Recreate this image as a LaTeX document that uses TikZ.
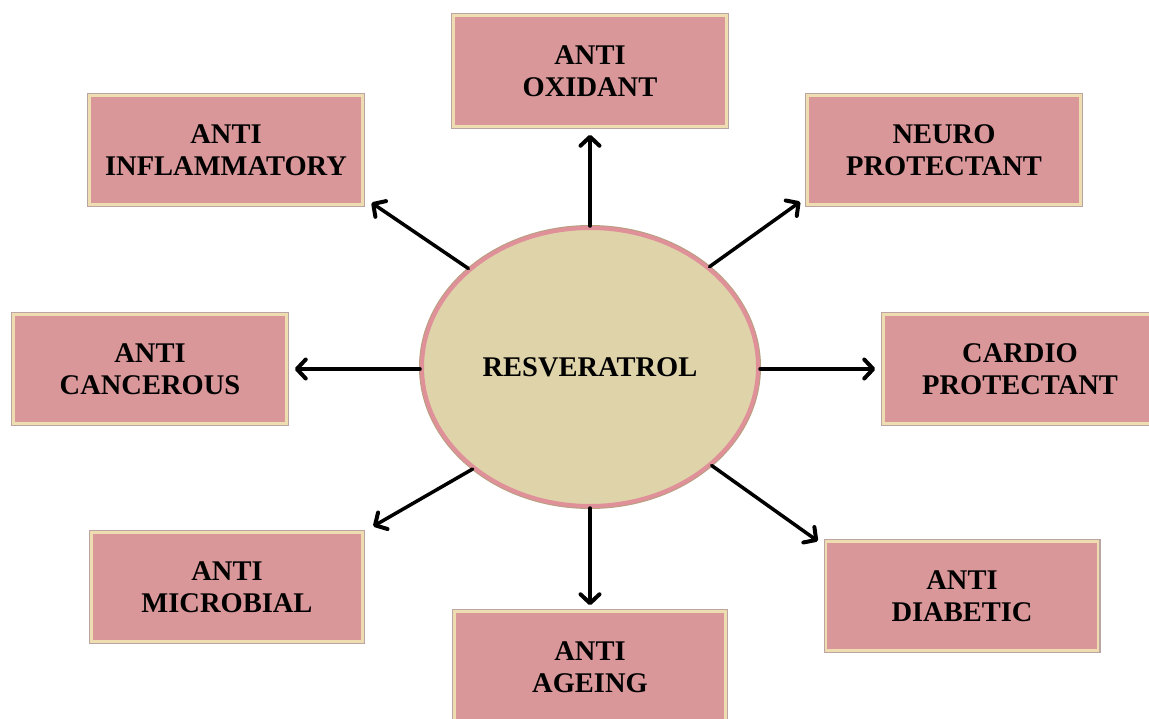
\documentclass[tikz,border=0pt]{standalone}
\usepackage{fontspec}
\setmainfont{Liberation Serif}
\usetikzlibrary{arrows.meta,shapes.geometric}
\definecolor{boxfill}{HTML}{D9979A}
\definecolor{boxrim}{HTML}{EDDDB0}
\definecolor{boxshade}{HTML}{BBA4A2}
\definecolor{ellfill}{HTML}{DED3A9}
\definecolor{ellrim}{HTML}{DF9099}
\definecolor{ellout}{HTML}{B8A080}
\tikzset{
  effbox/.style={rectangle, fill=boxfill, draw=boxrim, line width=2.5pt,
    preaction={draw=boxshade, line width=5pt},
    minimum width=273pt, minimum height=109pt, inner sep=0pt,
    align=center, font=\fontsize{28.5}{31.5}\selectfont\bfseries},
  centre/.style={ellipse, fill=ellfill, draw=ellrim, line width=4pt,
    preaction={draw=ellout, line width=6pt},
    minimum width=336pt, minimum height=278pt, inner sep=0pt,
    font=\fontsize{28.5}{31}\selectfont\bfseries},
  arr/.style={line width=3.5pt, line cap=round,
    -{Straight Barb[length=9pt,width=19pt,line width=4pt,round]}}
}
\begin{document}
\begin{tikzpicture}[x=1pt,y=-1pt]
\useasboundingbox (0,0) rectangle (1149,718);
\fill[white] (0,0) rectangle (1149,718);
\begin{scope}
\clip (0,0) rectangle (1149,718);
\node[centre] (c) at (590,367) {RESVERATROL};
\node[effbox, minimum height=111pt] (ox) at (590,71) {ANTI\\OXIDANT};
\node[effbox] (inf) at (226,150) {ANTI\\INFLAMMATORY};
\node[effbox] (neu) at (944,150) {NEURO\\PROTECTANT};
\node[effbox] (can) at (150,369) {ANTI\\CANCEROUS};
\node[effbox] (car) at (1020,369) {CARDIO\\PROTECTANT};
\node[effbox, minimum width=271pt] (mic) at (227,587) {ANTI\\MICROBIAL};
\node[effbox, minimum width=272pt] (dia) at (962,596) {ANTI\\DIABETIC};
\node[effbox, minimum width=271pt, minimum height=111pt] (age) at (590,667) {ANTI\\AGEING};
\end{scope}
\draw[arr, shorten >=7pt] (c.north) -- (ox.south);
\draw[arr, shorten >=5pt] (c.south) -- (age.north);
\draw[arr, shorten >=7pt] (c.west |- can.east) -- (can.east);
\draw[arr, shorten >=7pt] (c.east |- car.west) -- (car.west);
\draw[arr, shorten >=9.5pt] (c.141.7) -- (inf.-19);
\draw[arr, shorten >=7.5pt] (c.40.3) -- (neu.199.5);
\draw[arr, shorten >=11pt] (c.221.5) -- (mic.22.7);
\draw[arr, shorten >=8.5pt] (c.321.8) -- (dia.160.8);
\end{tikzpicture}
\end{document}
